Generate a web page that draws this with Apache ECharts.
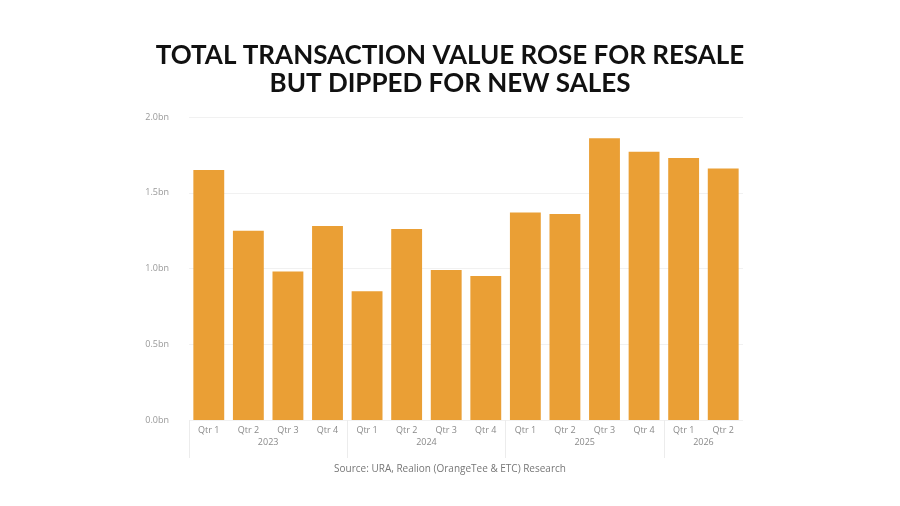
<!DOCTYPE html>
<html><head><meta charset="utf-8">
<script src="https://cdn.jsdelivr.net/npm/echarts@6/dist/echarts.min.js"></script>
<style>html,body{margin:0;padding:0;background:#fff}#c{width:900px;height:506px}</style>
</head><body><div id="c"></div>
<script>
const quarters = ['Qtr 1','Qtr 2','Qtr 3','Qtr 4','Qtr 1','Qtr 2','Qtr 3','Qtr 4','Qtr 1','Qtr 2','Qtr 3','Qtr 4','Qtr 1','Qtr 2'];
const values = [1.65, 1.25, 0.98, 1.28, 0.85, 1.26, 0.99, 0.95, 1.37, 1.36, 1.86, 1.77, 1.73, 1.66];
const years = ['2023','2024','2025','2026'];
const yearStartIdx = [0, 4, 8, 12];
const yearSpan = [4, 4, 4, 2];
const yTicks = [0, 0.5, 1.0, 1.5, 2.0];
const titleLines = ['TOTAL TRANSACTION VALUE ROSE FOR RESALE', 'BUT DIPPED FOR NEW SALES'];
const sourceText = 'Source: URA, Realion (OrangeTee & ETC) Research';

// half-quarter points for year axis (0..28)
const halfPts = [];
const labelAt = {};
const sepAt = {};
for (let i = 0; i <= quarters.length * 2; i++) halfPts.push(String(i));
years.forEach((y, k) => {
  labelAt[yearStartIdx[k] * 2 + yearSpan[k]] = y;
  sepAt[yearStartIdx[k] * 2] = true;
});

const chart = echarts.init(document.getElementById('c'));
chart.setOption({
  animation: false,
  backgroundColor: '#ffffff',
  title: [{
    text: titleLines.join('\n'),
    left: 'center', top: 37,
    textStyle: { fontFamily: 'Lato', fontWeight: 'bold', fontSize: 26, lineHeight: 28, color: '#111' }
  }, {
    text: sourceText,
    left: 'center', top: 459,
    textStyle: { fontFamily: 'Open Sans', fontWeight: 'normal', fontSize: 10, color: '#777' }
  }],
  grid: { left: 189, right: 157, top: 117, bottom: 86 },
  xAxis: [{
    type: 'category', data: quarters, position: 'bottom',
    axisLine: { show: false }, axisTick: { show: false },
    axisLabel: { interval: 0, margin: 6, fontSize: 9, color: '#8a8a8a', fontFamily: 'Open Sans' }
  }, {
    type: 'category', data: halfPts, boundaryGap: false, position: 'bottom',
    axisLine: { show: false },
    axisTick: { show: true, length: 38, lineStyle: { color: '#ececec' }, interval: (i) => !!sepAt[i] },
    axisLabel: { margin: 18, fontSize: 9, color: '#8a8a8a', fontFamily: 'Open Sans',
      interval: (i) => labelAt[i] !== undefined,
      formatter: (v, i) => labelAt[i] || '' }
  }],
  yAxis: {
    type: 'value', min: 0, max: 2, interval: 0.5,
    axisLabel: { margin: 20, fontSize: 9, color: '#999', fontFamily: 'Open Sans',
      formatter: (v) => v.toFixed(1) + 'bn' },
    axisLine: { show: false }, axisTick: { show: false },
    splitLine: { lineStyle: { color: '#f1f1f1' } }
  },
  series: [{
    type: 'bar', data: values, xAxisIndex: 0, barWidth: '78%',
    itemStyle: { color: '#EA9F35' }
  }]
});
</script></body></html>
